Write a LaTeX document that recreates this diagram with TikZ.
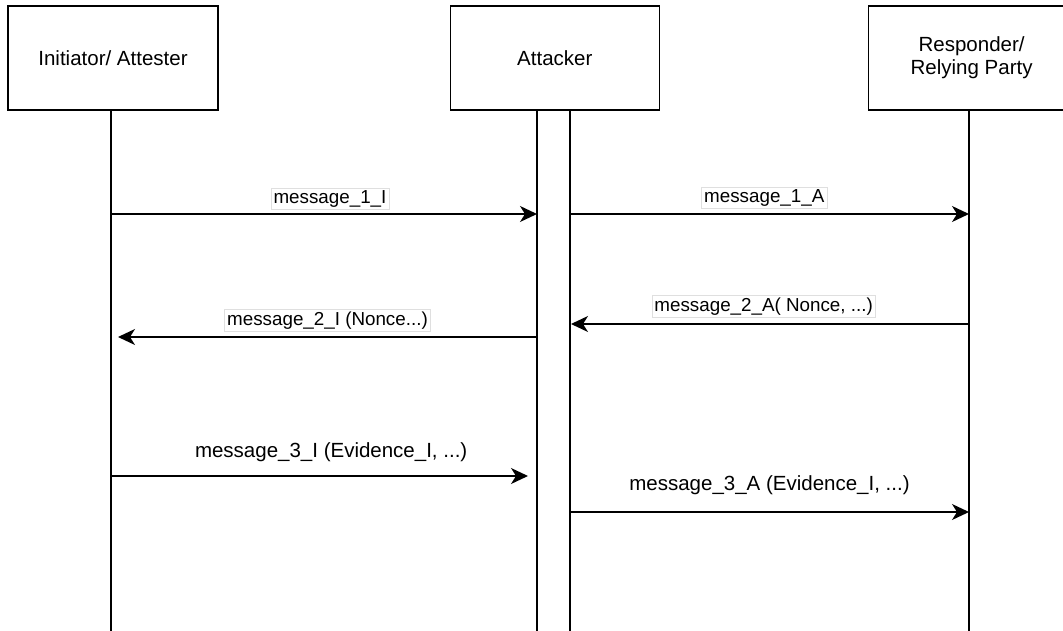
\documentclass[tikz,border=0pt]{standalone}
\usepackage{fontspec}
\setmainfont{Liberation Sans}
\usetikzlibrary{arrows.meta}
\usetikzlibrary{positioning}
\tikzset{actor node/.style={rectangle,draw,fill=white,line width=1.3pt,minimum width=210pt,minimum height=104pt,inner sep=0pt,align=center,font=\fontsize{20.5}{23}\selectfont}}
\tikzset{life line/.style={line width=1.3pt}}
\tikzset{msg line/.style={line width=1.3pt,-{Stealth[length=17pt,width=16pt,inset=5pt]}}}
\tikzset{box label/.style={rectangle,draw=gray!25,line width=0.6pt,fill=white,inner sep=2.5pt,font=\fontsize{18.8}{22}\selectfont}}
\tikzset{plain label/.style={inner sep=2pt,font=\fontsize{20.5}{24}\selectfont}}

\begin{document}
\begin{tikzpicture}[x=1pt,y=-1pt]
	\clip (0,0) rectangle (1063,631);

	\node[actor node] (init) at (113,58) {Initiator/ Attester};
	\node[actor node,minimum width=209pt] (att) [right = 231pt of init] {Attacker};
	\node[actor node,minimum width=206pt] (resp) [right = 208pt of att] {Responder/\\Relying Party};

	% lifelines
	\coordinate (initTop) at (111,110);
	\coordinate (initEnd) at (111,631);
	\coordinate (attLTop) at (537,110);
	\coordinate (attLEnd) at (537,631);
	\coordinate (attRTop) at (570,110);
	\coordinate (attREnd) at (570,631);
	\coordinate (respTop) at (969,110);
	\coordinate (respEnd) at (969,631);
	\draw[life line] (initTop) -- (initEnd);
	\draw[life line] (attLTop) -- (attLEnd);
	\draw[life line] (attRTop) -- (attREnd);
	\draw[life line] (respTop) -- (respEnd);

	% message ends
	\coordinate (m1I) at (111,214);
	\coordinate (m1Iend) at (537,214);
	\coordinate (m1A) at (570,214);
	\coordinate (m1Aend) at (969,214);
	\coordinate (m2A) at (969,324);
	\coordinate (m2Aend) at (571,324);
	\coordinate (m2I) at (537,337);
	\coordinate (m2Iend) at (118,337);
	\coordinate (m3I) at (111,476);
	\coordinate (m3Iend) at (528,476);
	\coordinate (m3A) at (570,512);
	\coordinate (m3Aend) at (969,512);

	\path[msg line]
	(m1I) edge node[box label,pos=0.514,above=4pt] {message\_1\_I} (m1Iend)
	(m1A) edge node[box label,pos=0.487,above=5pt] {message\_1\_A} (m1Aend)
	(m2A) edge node[box label,pos=0.516,above=6pt] {message\_2\_A( Nonce, ...)} (m2Aend)
	(m2I) edge node[box label,pos=0.5,above=5pt] {message\_2\_I (Nonce...)} (m2Iend)
	(m3I) edge node[plain label,pos=0.528,above=12pt] {message\_3\_I (Evidence\_I, ...)} (m3Iend)
	(m3A) edge node[plain label,pos=0.5,above=15pt] {message\_3\_A (Evidence\_I, ...)} (m3Aend);
\end{tikzpicture}
\end{document}
